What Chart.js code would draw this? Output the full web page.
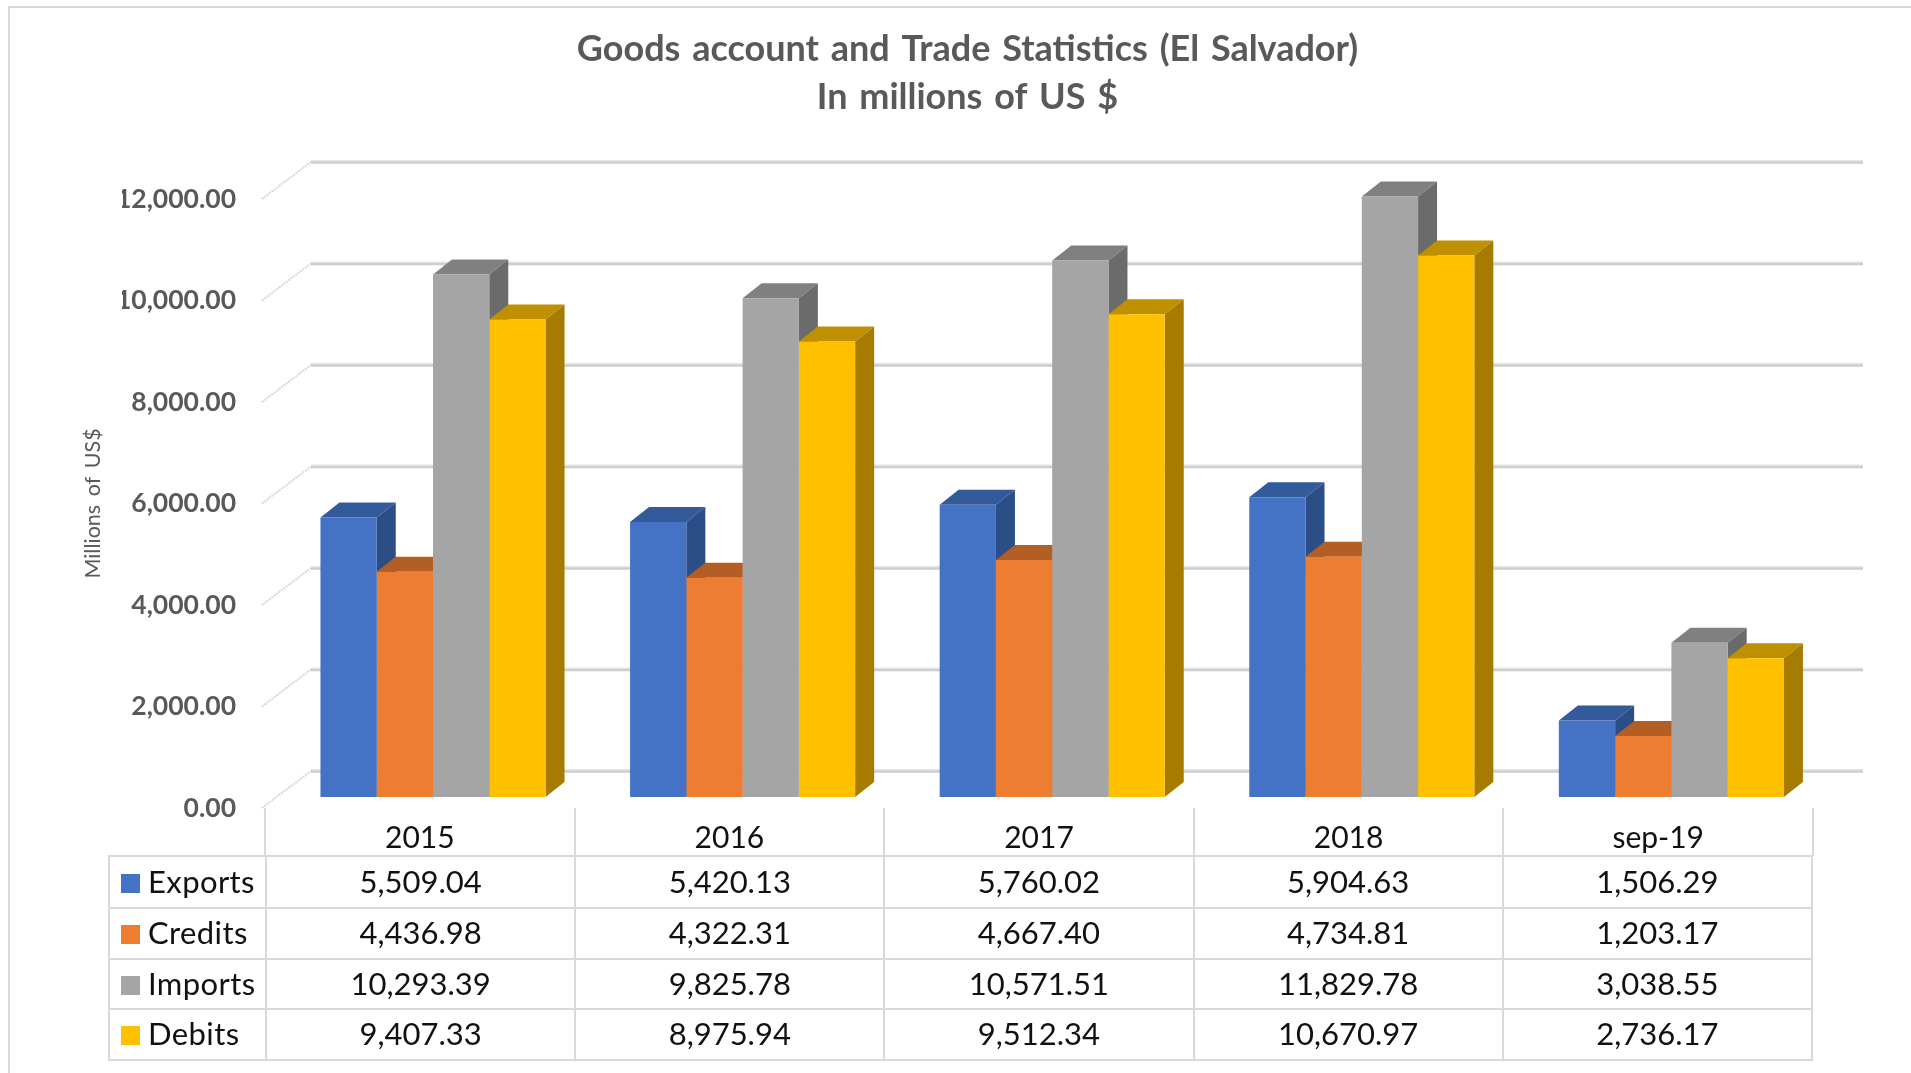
<!DOCTYPE html>
<html>
<head>
<meta charset="utf-8">
<script src="https://cdn.jsdelivr.net/npm/chart.js@4"></script>
<style>
  html, body { margin: 0; padding: 0; background: #fff; }
  #wrap { position: relative; width: 1911px; height: 1073px; overflow: hidden; }
  #frame { position: absolute; left: 8px; top: 6px; width: 2000px; height: 2000px; border: 2px solid #d9d9d9; }
  canvas { position: absolute; left: 0; top: 0; }
  #dataTable { position: absolute; left: 108px; top: 855px; border-collapse: collapse; table-layout: fixed; width: 1705px;
    font-family: Lato, sans-serif; font-size: 31px; color: #111; }
  #dataTable td { border: 2px solid #d9d9d9; padding: 0 0 3px 0; text-align: center; box-sizing: border-box; white-space: nowrap; }
  #dataTable td.name { text-align: left; padding-left: 11px; width: 157px; letter-spacing: 0.4px; }
  #dataTable .key { display: inline-block; width: 19px; height: 19px; margin-right: 8px; }
</style>
</head>
<body>
<div id="wrap">
  <div id="frame"></div>
  <canvas id="chart" width="1911" height="1073"></canvas>
  <table id="dataTable"></table>
</div>
<script>
var categories = ["2015", "2016", "2017", "2018", "sep-19"];
var exportsData = [5509.04, 5420.13, 5760.02, 5904.63, 1506.29];
var creditsData = [4436.98, 4322.31, 4667.40, 4734.81, 1203.17];
var importsData = [10293.39, 9825.78, 10571.51, 11829.78, 3038.55];
var debitsData = [9407.33, 8975.94, 9512.34, 10670.97, 2736.17];

var FONT = "Lato, sans-serif";
var TEXT_GREY = "#595959";
var GRID_LIGHT = "#e4e4e4", GRID_DARK = "#cdcdcd", DIAG_COLOR = "#d8d8d8";

// front, top, side
var shades = {
  Exports: ["#4472C4", "#335A9A", "#2C4E87"],
  Credits: ["#ED7D31", "#B35E25", "#A45723"],
  Imports: ["#A5A5A5", "#808080", "#6B6B6B"],
  Debits: ["#FFC000", "#BF9000", "#A67C00"]
};

function money(v){
  return v.toLocaleString("en-US", {minimumFractionDigits: 2, maximumFractionDigits: 2});
}

var seriesList = [
  {label: "Exports", data: exportsData},
  {label: "Credits", data: creditsData},
  {label: "Imports", data: importsData},
  {label: "Debits", data: debitsData}
];
var rowHeights = [52, 51, 50, 51];

// the fake 3D: back wall with the grid, bars moved a bit into the floor
var WALL_DX = 46, WALL_DY = -37, DIAG_START = -3, WALL_RIGHT = 1863;
var BAR_SHIFT_X = 13.2, BAR_SHIFT_Y = -11, DEPTH_X = 19, DEPTH_Y = -15;

var fake3d = {
  id: "fake3d",
  beforeDraw: function(chart){
    // the original has wide gaps between words
    chart.ctx.wordSpacing = "3px";
  },
  beforeDatasetsDraw: function(chart){
    var ctx = chart.ctx, area = chart.chartArea, y = chart.scales.y;
    y.ticks.forEach(function(t){
      var py = y.getPixelForValue(t.value);
      ctx.save();
      ctx.strokeStyle = DIAG_COLOR; ctx.lineWidth = 2; ctx.setLineDash([2, 1]);
      ctx.beginPath();
      ctx.moveTo(area.left + DIAG_START, py);
      ctx.lineTo(area.left + WALL_DX, py + WALL_DY);
      ctx.stroke();
      ctx.setLineDash([]);
      ctx.strokeStyle = GRID_LIGHT; ctx.lineWidth = 4;
      ctx.beginPath();
      ctx.moveTo(area.left + WALL_DX, py + WALL_DY);
      ctx.lineTo(WALL_RIGHT, py + WALL_DY);
      ctx.stroke();
      ctx.strokeStyle = GRID_DARK; ctx.lineWidth = 2;
      ctx.beginPath();
      ctx.moveTo(area.left + WALL_DX, py + WALL_DY + 0.5);
      ctx.lineTo(WALL_RIGHT, py + WALL_DY + 0.5);
      ctx.stroke();
      ctx.restore();
    });

    ctx.save();
    ctx.translate(BAR_SHIFT_X, BAR_SHIFT_Y);
    categories.forEach(function(c, j){
      chart.data.datasets.forEach(function(ds, i){
        var bar = chart.getDatasetMeta(i).data[j];
        var left = bar.x - bar.width/2, right = bar.x + bar.width/2;
        var s = shades[ds.label];
        // top face
        ctx.fillStyle = s[1];
        ctx.beginPath();
        ctx.moveTo(left, bar.y);
        ctx.lineTo(right, bar.y);
        ctx.lineTo(right + DEPTH_X, bar.y + DEPTH_Y);
        ctx.lineTo(left + DEPTH_X, bar.y + DEPTH_Y);
        ctx.closePath();
        ctx.fill();
        // side face
        ctx.fillStyle = s[2];
        ctx.beginPath();
        ctx.moveTo(right, bar.y);
        ctx.lineTo(right + DEPTH_X, bar.y + DEPTH_Y);
        ctx.lineTo(right + DEPTH_X, bar.base + DEPTH_Y);
        ctx.lineTo(right, bar.base);
        ctx.closePath();
        ctx.fill();
      });
    });
  },
  afterDatasetsDraw: function(chart){
    chart.ctx.restore();
  }
};

var chart = new Chart(document.getElementById("chart").getContext("2d"), {
  type: "bar",
  data: {
    labels: categories,
    datasets: seriesList.map(function(s){
      return {
        label: s.label,
        data: s.data,
        backgroundColor: shades[s.label][0],
        categoryPercentage: 0.727,
        barPercentage: 1,
        clip: false
      };
    })
  },
  options: {
    responsive: false,
    animation: false,
    layout: {padding: {left: 122, right: 98, top: 25, bottom: 217}},
    plugins: {
      legend: {display: false},
      tooltip: {enabled: false},
      title: {
        display: true,
        text: ["Goods account and Trade Statistics (El Salvador)", "In millions of US $"],
        color: TEXT_GREY,
        font: {family: FONT, size: 36, weight: "bold", lineHeight: 1.347},
        padding: {top: 0, bottom: 77}
      }
    },
    scales: {
      x: {
        border: {display: false},
        grid: {offset: true, drawOnChartArea: false, drawTicks: true, tickLength: 48, color: "#d9d9d9", lineWidth: 2},
        ticks: {color: "#111", font: {family: FONT, size: 30}, padding: -36, maxRotation: 0},
        afterFit: function(scale){ scale.height = 48; }
      },
      y: {
        min: 0,
        max: 12000,
        border: {display: false},
        grid: {display: false, drawTicks: false},
        ticks: {
          stepSize: 2000,
          color: TEXT_GREY,
          padding: 29,
          font: {family: FONT, size: 26.5, weight: "bold"},
          callback: function(v){ return money(v); }
        },
        title: {
          display: true,
          text: "Millions of US$",
          color: TEXT_GREY,
          font: {family: FONT, size: 21.5},
          padding: {top: -42, bottom: 0}
        },
        afterFit: function(scale){ scale.width = 143; }
      }
    }
  },
  plugins: [fake3d]
});

// table under the plot, the category row comes from the x axis
var table = document.getElementById("dataTable");
seriesList.forEach(function(s, r){
  var tr = document.createElement("tr");
  tr.style.height = rowHeights[r] + "px";
  var name = document.createElement("td");
  name.className = "name";
  var key = document.createElement("span");
  key.className = "key";
  key.style.background = shades[s.label][0];
  name.appendChild(key);
  name.appendChild(document.createTextNode(s.label));
  tr.appendChild(name);
  s.data.forEach(function(v){
    var td = document.createElement("td");
    td.textContent = money(v);
    tr.appendChild(td);
  });
  table.appendChild(tr);
});
</script>
</body>
</html>
